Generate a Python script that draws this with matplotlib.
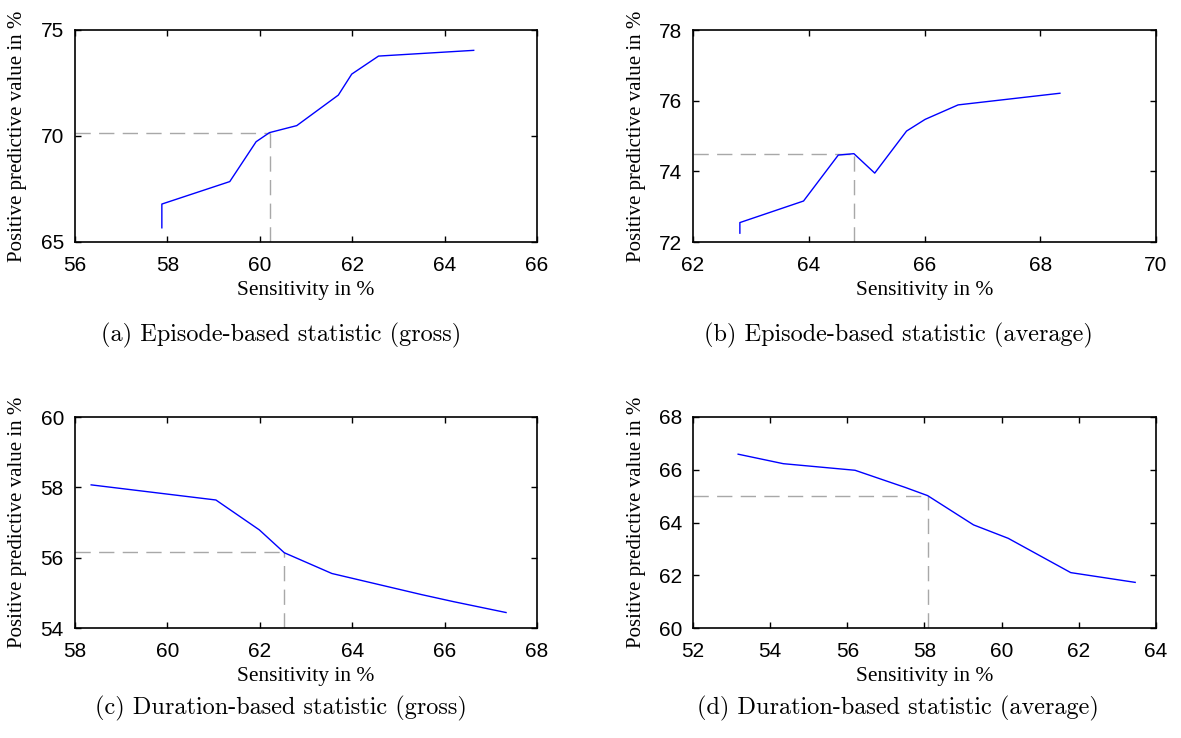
import matplotlib
matplotlib.use("Agg")
import matplotlib.pyplot as plt

# (a) episode-based, gross
sens_a = [57.88, 57.88, 59.35, 59.92, 60.21, 60.80, 61.70, 61.99, 62.57, 64.63]
ppv_a = [65.67, 66.79, 67.85, 69.73, 70.16, 70.49, 71.93, 72.92, 73.77, 74.04]
op_a = (60.21, 70.12)

# (b) episode-based, average
sens_b = [62.81, 62.81, 63.91, 64.51, 64.78, 65.14, 65.69, 66.01, 66.58, 68.34]
ppv_b = [72.25, 72.55, 73.16, 74.46, 74.50, 73.95, 75.14, 75.47, 75.88, 76.21]
op_b = (64.78, 74.50)

# (c) duration-based, gross
sens_c = [58.35, 61.05, 61.99, 62.53, 63.56, 65.50, 66.19, 67.33]
ppv_c = [58.07, 57.64, 56.79, 56.14, 55.55, 54.95, 54.75, 54.44]
op_c = (62.53, 56.15)

# (d) duration-based, average
sens_d = [53.17, 54.34, 56.20, 57.50, 58.08, 59.27, 60.17, 61.79, 63.46]
ppv_d = [66.59, 66.23, 65.98, 65.33, 65.02, 63.91, 63.40, 62.10, 61.73]
op_d = (58.08, 65.02)

panels = [
    (sens_a, ppv_a, op_a, (56, 66), range(56, 67, 2), (65, 75), range(65, 76, 5),
     "(a) Episode-based statistic (gross)"),
    (sens_b, ppv_b, op_b, (62, 70), range(62, 71, 2), (72, 78), range(72, 79, 2),
     "(b) Episode-based statistic (average)"),
    (sens_c, ppv_c, op_c, (58, 68), range(58, 69, 2), (54, 60), range(54, 61, 2),
     "(c) Duration-based statistic (gross)"),
    (sens_d, ppv_d, op_d, (52, 64), range(52, 65, 2), (60, 68), range(60, 69, 2),
     "(d) Duration-based statistic (average)"),
]

W, H = 1181, 738
# axes boxes in pixels: left, top, right, bottom
boxes = [(75, 30, 537, 242), (693, 30, 1156, 242),
         (75, 417, 537, 628), (693, 417, 1156, 628)]
captions_xy = [(281, 335), (898, 335), (281, 708), (898, 708)]

fig = plt.figure(figsize=(W / 100, H / 100), dpi=100)

for (x, y, op, xl, xt, yl, yt, cap), (l, t, r, b), (cx, cy) in zip(panels, boxes, captions_xy):
    ax = fig.add_axes([l / W, 1 - b / H, (r - l) / W, (b - t) / H])
    ax.plot([xl[0], op[0]], [op[1], op[1]], color="#a8a8a8", lw=1.0, dashes=(11, 6))
    ax.plot([op[0], op[0]], [yl[0], op[1]], color="#a8a8a8", lw=1.0, dashes=(11, 6))
    ax.plot(x, y, color="blue", lw=1.0)
    ax.set_xlim(*xl)
    ax.set_ylim(*yl)
    ax.set_xticks(list(xt))
    ax.set_yticks(list(yt))
    ax.tick_params(direction="in", top=True, right=True, length=4, width=1,
                   labelsize=15)
    ax.tick_params(axis="x", pad=10)
    ax.tick_params(axis="y", pad=8)
    for lab in ax.get_xticklabels() + ax.get_yticklabels():
        lab.set_family("Liberation Sans")
    for s in ax.spines.values():
        s.set_linewidth(1.2)
    h = b - t
    w = r - l
    ax.set_xlabel("Sensitivity in %", family="Liberation Serif", fontsize=15.5)
    ax.set_ylabel("Positive predictive value in %", family="Liberation Serif", fontsize=15)
    ax.xaxis.label.set_va("center")
    ax.yaxis.label.set_va("center")
    ax.xaxis.set_label_coords(0.5, -49 / h)
    ax.yaxis.set_label_coords(-57 / w, 0.5)
    fig.text(cx / W, 1 - cy / H, cap, family="cmr10", fontsize=17.5,
             ha="center", va="center")

fig.savefig("out.png", dpi=100)
